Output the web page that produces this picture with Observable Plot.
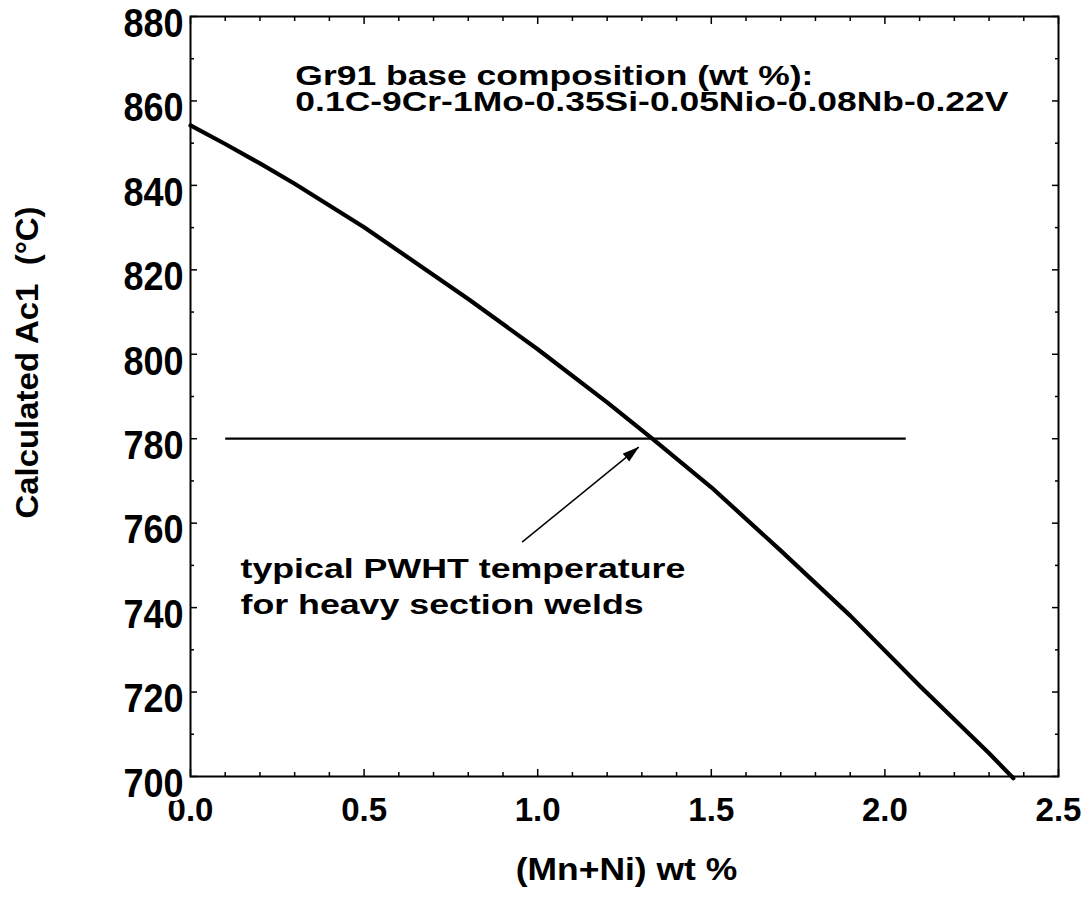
<!DOCTYPE html>
<html>
<head>
<meta charset="utf-8">
<script src="https://cdn.jsdelivr.net/npm/d3@7"></script>
<script src="https://cdn.jsdelivr.net/npm/@observablehq/plot@0.6"></script>
<style>
  html, body { margin: 0; padding: 0; background: #fff; }
  #chart svg { display: block; }
  #chart text { white-space: pre; }
</style>
</head>
<body>
<div id="chart"></div>
<script>
// ---- data ----
const mnNi = [0, 0.1, 0.2, 0.3, 0.5, 0.8, 1.0, 1.2, 1.33, 1.5, 1.7, 1.9, 2.1, 2.3, 2.37];
const ac1  = [854.2, 849.8, 845.2, 840.4, 830.1, 813.1, 801.2, 788.6, 780, 768.5, 753.5, 738.1, 721.5, 705.5, 699.6];

const pwhtTemp = 780;
const pwhtFrom = 0.1;
const pwhtTo = 2.06;

const arrowFrom = {x: 0.955, y: 755.5};
const arrowTo = {x: 1.291, y: 778};

const xMajor = [0, 0.5, 1.0, 1.5, 2.0, 2.5];
const xMinor = [0.1,0.2,0.3,0.4,0.6,0.7,0.8,0.9,1.1,1.2,1.3,1.4,1.6,1.7,1.8,1.9,2.1,2.2,2.3,2.4];
const yMajor = [700, 720, 740, 760, 780, 800, 820, 840, 860, 880];
const yMinor = [710, 730, 750, 770, 790, 810, 830, 850, 870];

const xTitle = "(Mn+Ni) wt %";
const yTitle = "Calculated Ac1  (°C)";
const noteTop = {x: 0.302, y: 857.7, text: "Gr91 base composition (wt %):\n0.1C-9Cr-1Mo-0.35Si-0.05Nio-0.08Nb-0.22V"};
const noteBottom = {x: 0.144, y: 738.5, text: "typical PWHT temperature\nfor heavy section welds"};

// ---- build ----
const curve = mnNi.map((x, i) => ({x, y: ac1[i]}));

const arrowHead = (color) => {
  const m = d3.create("svg:marker")
    .attr("viewBox", "0 -6 17 12")
    .attr("refX", 16.5).attr("refY", 0)
    .attr("markerWidth", 17).attr("markerHeight", 12)
    .attr("markerUnits", "userSpaceOnUse")
    .attr("orient", "auto");
  m.append("path").attr("d", "M0,-5.2L17,0L0,5.2Z").attr("fill", color).attr("stroke", "none");
  return m.node();
};

const tickStyle = {fill: "none", stroke: "black", strokeWidth: 1.5, label: null};

const svg = Plot.plot({
  width: 1086,
  height: 897,
  marginLeft: 190,
  marginRight: 28,
  marginTop: 16,
  marginBottom: 121,
  x: {domain: [0, 2.5]},
  y: {domain: [700, 880]},
  style: {fontFamily: "'Liberation Sans', Arial, Helvetica, sans-serif", fontWeight: "bold", background: "white", color: "black"},
  marks: [
    // inward ticks on all four sides
    Plot.axisX(xMinor, {anchor: "bottom", tickSize: -4, ...tickStyle}),
    Plot.axisX(xMajor, {anchor: "bottom", tickSize: -7, ...tickStyle}),
    Plot.axisX(xMinor, {anchor: "top", tickSize: -4, ...tickStyle}),
    Plot.axisX(xMajor, {anchor: "top", tickSize: -7, ...tickStyle}),
    Plot.axisY(yMinor, {anchor: "left", tickSize: -4, ...tickStyle}),
    Plot.axisY(yMajor, {anchor: "left", tickSize: -7, ...tickStyle}),
    Plot.axisY(yMinor, {anchor: "right", tickSize: -4, ...tickStyle}),
    Plot.axisY(yMajor, {anchor: "right", tickSize: -7, ...tickStyle}),
    // tick labels
    Plot.axisX(xMajor, {anchor: "bottom", tickSize: 0, tickPadding: 21, tickFormat: d3.format(".1f"), fontSize: 33, fill: "black", label: null}),
    Plot.axisY(yMajor, {anchor: "left", tickSize: 0, tickPadding: 7, fontSize: 40, dy: 7.5, fill: "black", label: null}),
    Plot.frame({stroke: "black", strokeWidth: 2}),
    // data curve
    Plot.line(curve, {x: "x", y: "y", stroke: "black", strokeWidth: 4.2}),
    // PWHT line
    Plot.link([{x1: pwhtFrom, x2: pwhtTo, y: pwhtTemp}], {x1: "x1", x2: "x2", y1: "y", y2: "y", stroke: "black", strokeWidth: 2.2}),
    // arrow
    Plot.link([{x1: arrowFrom.x, y1: arrowFrom.y, x2: arrowTo.x, y2: arrowTo.y}], {x1: "x1", y1: "y1", x2: "x2", y2: "y2", stroke: "black", strokeWidth: 1.5, markerEnd: arrowHead}),
    // annotations
    Plot.text([noteTop], {x: "x", y: "y", text: "text", textAnchor: "start", lineAnchor: "bottom", lineHeight: 0.918, fontSize: 28, fill: "black", ariaDescription: "note-top"}),
    Plot.text([noteBottom], {x: "x", y: "y", text: "text", textAnchor: "start", lineAnchor: "bottom", lineHeight: 1.257, fontSize: 28.4, fill: "black", ariaDescription: "note-bottom"}),
    // axis titles
    Plot.text([xTitle], {text: d => d, frameAnchor: "bottom", textAnchor: "middle", dy: 103.3, dx: 2, lineAnchor: "bottom", fontSize: 30.7, fill: "black", ariaDescription: "x-title"}),
    Plot.text([yTitle], {text: d => d, frameAnchor: "left", textAnchor: "middle", dx: -153, dy: -34, rotate: -90, lineAnchor: "bottom", fontSize: 32, fill: "black", ariaDescription: "y-title"})
  ]
});

function stretch(selector, sx, sy = 1) {
  svg.querySelectorAll(selector).forEach(t => {
    t.setAttribute("transform", (t.getAttribute("transform") || "") + ` scale(${sx},${sy})`);
  });
}
stretch('g[aria-description="note-top"] text', 1.266);
stretch('g[aria-description="note-bottom"] text', 1.259);
stretch('g[aria-description="x-title"] text', 1.155);
stretch('g[aria-description="y-title"] text', 1.03);
stretch('g[aria-label="y-axis tick label"] text', 0.9);

// white halo behind y tick labels (as in the reference, where "700" clips the top of "0.0")
svg.querySelectorAll('g[aria-label="y-axis tick label"]').forEach(g => {
  g.setAttribute("stroke", "white");
  g.setAttribute("stroke-width", "8");
  g.setAttribute("paint-order", "stroke");
  g.setAttribute("stroke-linejoin", "round");
});

document.getElementById("chart").appendChild(svg);
</script>
</body>
</html>
